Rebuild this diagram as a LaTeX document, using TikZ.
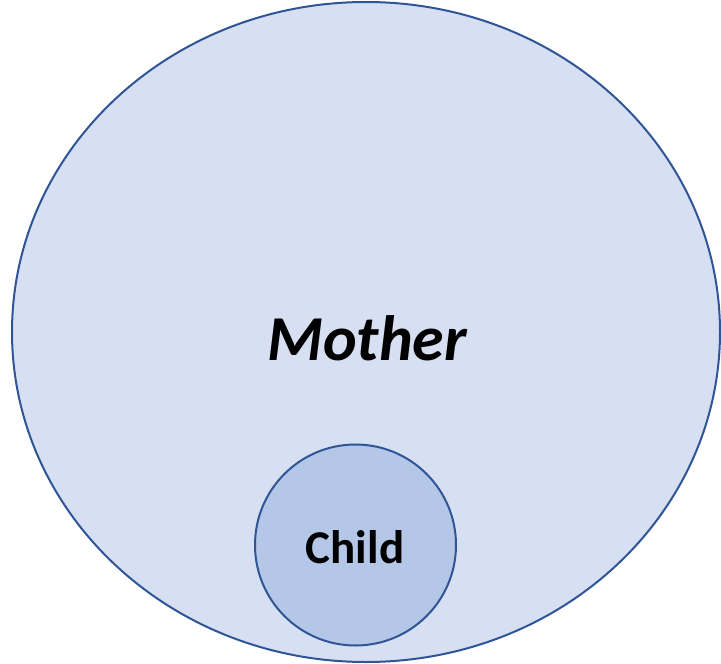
\documentclass[tikz,border=0pt]{standalone}
\usepackage{fontspec}
\setmainfont{Carlito}
\usetikzlibrary{shapes.geometric}
\begin{document}
\begin{tikzpicture}[x=1pt,y=-1pt,
  outline/.style={draw=edgeblue,line width=2pt},
]
\definecolor{edgeblue}{HTML}{2F5597}
\definecolor{motherfill}{HTML}{D6E0F2}
\definecolor{childfill}{HTML}{B4C7E7}
\useasboundingbox (0,0) rectangle (721,664);
\node[outline,fill=motherfill,ellipse,minimum width=708pt,minimum height=660pt,inner sep=0pt] (mother) at (366,332) {};
\node[font=\fontsize{64}{64}\selectfont\bfseries\itshape] (mtext) at (367,338) {Mother};
\node[outline,fill=childfill,circle,minimum size=201pt,inner sep=0pt] (child) at (355.5,545) {};
\node[font=\fontsize{47}{47}\selectfont\bfseries] (ctext) at (355,547) {Child};
\end{tikzpicture}
\end{document}
